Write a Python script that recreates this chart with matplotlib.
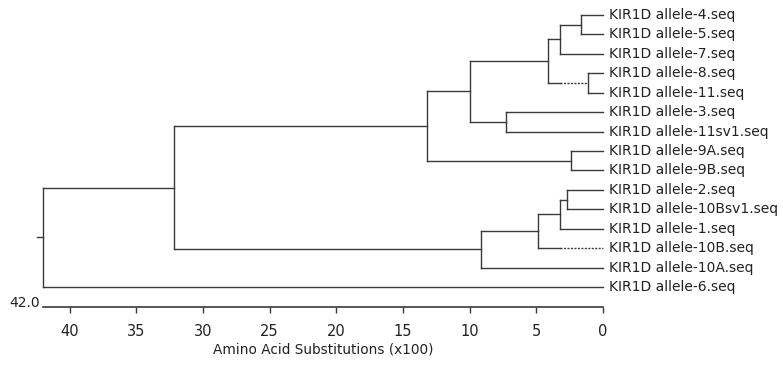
import matplotlib
matplotlib.use("Agg")
import matplotlib.pyplot as plt

# leaves, top to bottom
LEAVES = [
    "KIR1D allele-4.seq", "KIR1D allele-5.seq", "KIR1D allele-7.seq",
    "KIR1D allele-8.seq", "KIR1D allele-11.seq", "KIR1D allele-3.seq",
    "KIR1D allele-11sv1.seq", "KIR1D allele-9A.seq", "KIR1D allele-9B.seq",
    "KIR1D allele-2.seq", "KIR1D allele-10Bsv1.seq", "KIR1D allele-1.seq",
    "KIR1D allele-10B.seq", "KIR1D allele-10A.seq", "KIR1D allele-6.seq",
]

# merges: (left child, right child); index >= len(LEAVES) means an earlier merge
MERGE_LEFT = [0, 15, 3, 16, 5, 18, 7, 20, 9, 23, 24, 25, 22, 27]
MERGE_RIGHT = [1, 2, 4, 17, 6, 19, 8, 21, 10, 11, 12, 13, 26, 14]
MERGE_HEIGHT = [1.65, 3.2, 1.1, 4.15, 7.3, 9.95, 2.4, 13.2, 2.7, 3.2, 4.9, 9.15, 32.2, 42.0]

# branches drawn dotted from this distance down to the child
DOTTED_NODE = [17, 12]
DOTTED_FROM = [3.2, 3.2]

XTICKS = [40, 35, 30, 25, 20, 15, 10, 5, 0]
ROOT_LABEL = "42.0"
XLABEL = "Amino Acid Substitutions (x100)"

LINE = "#3a3a3a"
W, H = 783, 366

fig = plt.figure(figsize=(W / 100, H / 100), dpi=100)
ax = fig.add_axes([43 / W, 1 - 307 / H, 560 / W, 307 / H])

n_leaf = len(LEAVES)
ypos = {i: float(i) for i in range(n_leaf)}
xpos = {i: 0.0 for i in range(n_leaf)}
dotted = dict(zip(DOTTED_NODE, DOTTED_FROM))


def branch(child, parent_x):
    cy = ypos[child]
    cx = xpos[child]
    if child in dotted:
        brk = dotted[child]
        ax.plot([parent_x, brk], [cy, cy], color=LINE, lw=1.0, clip_on=False)
        ax.plot([brk, cx], [cy, cy], color=LINE, lw=1.0, ls=(0, (1.5, 1)), clip_on=False)
    else:
        ax.plot([parent_x, cx], [cy, cy], color=LINE, lw=1.0, clip_on=False)


for k in range(len(MERGE_LEFT)):
    node = n_leaf + k
    a, b, h = MERGE_LEFT[k], MERGE_RIGHT[k], MERGE_HEIGHT[k]
    ypos[node] = (ypos[a] + ypos[b]) / 2
    xpos[node] = h
    ax.plot([h, h], [ypos[a], ypos[b]], color=LINE, lw=1.0, clip_on=False)
    branch(a, h)
    branch(b, h)

root = n_leaf + len(MERGE_LEFT) - 1
ax.plot([xpos[root], xpos[root] + 0.45], [ypos[root], ypos[root]], color=LINE, lw=1.0, clip_on=False)

for i, name in enumerate(LEAVES):
    ax.annotate(name, (0, i), xytext=(4, 0), textcoords="offset points",
                va="center", ha="left", fontsize=10, color="#222222")

ax.set_xlim(42, 0)
ax.set_ylim(15.03, -0.77)
ax.set_xticks(XTICKS)
ax.set_xticklabels([str(t) for t in XTICKS], fontsize=10.5, color="#222222")
ax.set_yticks([])
for s in ["top", "left", "right"]:
    ax.spines[s].set_visible(False)
ax.spines["bottom"].set_color(LINE)
ax.spines["bottom"].set_linewidth(1.2)
ax.tick_params(axis="x", direction="out", length=4.5, width=1.0, color=LINE, pad=8)
ax.set_xlabel(XLABEL, fontsize=9.8, color="#222222", labelpad=2.5)

ax.annotate(ROOT_LABEL, (42, 15.03), xytext=(-2, 3), textcoords="offset points",
            ha="right", va="center", fontsize=10, color="#222222", annotation_clip=False)

fig.savefig("out.png", dpi=100)
